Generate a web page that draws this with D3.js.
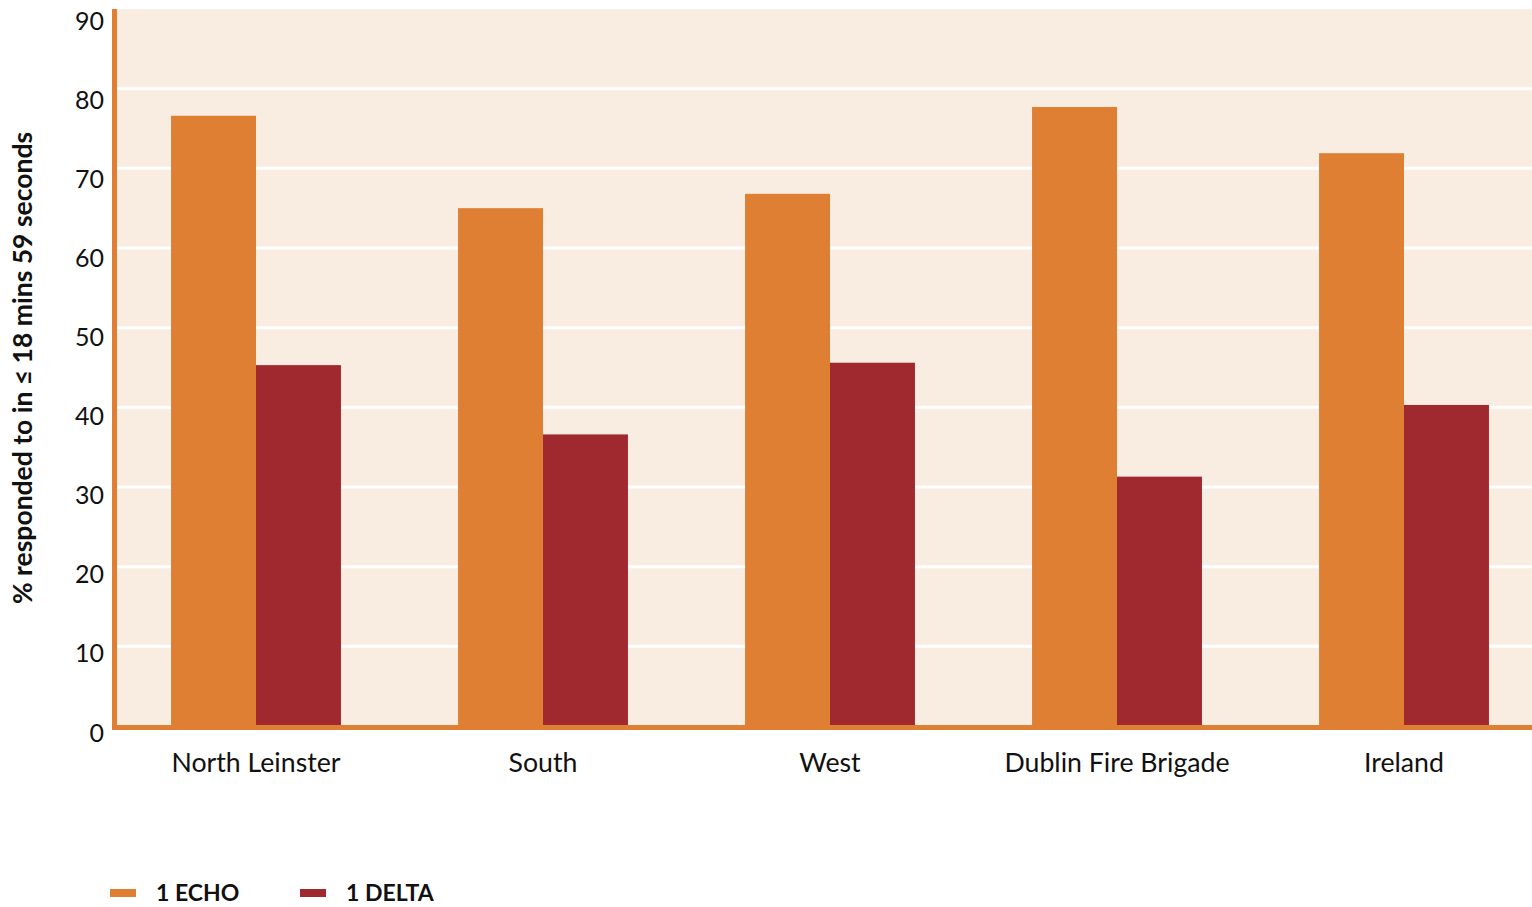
<!DOCTYPE html>
<html>
<head>
<meta charset="utf-8">
<script src="https://cdn.jsdelivr.net/npm/d3@7"></script>
<style>
  html, body { margin: 0; padding: 0; background: #ffffff; }
  svg { display: block; font-family: Lato, "Open Sans", sans-serif; }
</style>
</head>
<body>
<svg id="chart" width="1532" height="907"></svg>
<script>
// Response-time share by region, two incident categories
const categories = ["North Leinster", "South", "West", "Dublin Fire Brigade", "Ireland"];
const echoValues = [76.6, 65.0, 66.8, 77.7, 71.9];
const deltaValues = [45.3, 36.6, 45.6, 31.3, 40.3];
const seriesNames = ["1 ECHO", "1 DELTA"];
const yTicks = [0, 10, 20, 30, 40, 50, 60, 70, 80, 90];

const colors = { "1 ECHO": "#DF7F33", "1 DELTA": "#A0282F" };

const svg = d3.select("#chart");
const plot = { left: 117, right: 1532, top: 9, bottom: 726 };

// the category bands run slightly past the right edge of the frame
const x0 = d3.scaleBand()
  .domain(categories)
  .range([112.5, 1547.5])
  .paddingInner(0.408)
  .paddingOuter(0.204);

const x1 = d3.scaleBand()
  .domain(seriesNames)
  .range([0, x0.bandwidth()]);

const y = d3.scaleLinear()
  .domain([0, 90])
  .range([plot.bottom, plot.top]);

// tick labels sit a little below their gridlines
const yLabel = d3.scaleLinear()
  .domain([0, 90])
  .range([741.5, 30]);

// plot background
svg.append("rect")
  .attr("x", plot.left).attr("y", plot.top)
  .attr("width", plot.right - plot.left).attr("height", plot.bottom - plot.top)
  .attr("fill", "#F9EDE2");

// horizontal gridlines
svg.append("g")
  .selectAll("line")
  .data(yTicks.filter(d => d > 0 && d < 90))
  .join("line")
  .attr("x1", plot.left).attr("x2", plot.right)
  .attr("y1", d => y(d)).attr("y2", d => y(d))
  .attr("stroke", "#ffffff").attr("stroke-width", 3);

// bars
const rows = categories.map((c, i) => ({ cat: c, values: [
  { key: "1 ECHO", value: echoValues[i] },
  { key: "1 DELTA", value: deltaValues[i] }
]}));

svg.append("g")
  .selectAll("g")
  .data(rows)
  .join("g")
  .attr("transform", d => `translate(${x0(d.cat)},0)`)
  .selectAll("rect")
  .data(d => d.values)
  .join("rect")
  .attr("x", d => x1(d.key))
  .attr("y", d => y(d.value))
  .attr("width", x1.bandwidth())
  .attr("height", d => y(0) - y(d.value))
  .attr("fill", d => colors[d.key]);

// axis lines
svg.append("line")
  .attr("x1", 114.5).attr("x2", 114.5)
  .attr("y1", plot.top).attr("y2", 730)
  .attr("stroke", "#DF7F33").attr("stroke-width", 5);
svg.append("line")
  .attr("x1", 112).attr("x2", plot.right)
  .attr("y1", 727.5).attr("y2", 727.5)
  .attr("stroke", "#DF7F33").attr("stroke-width", 5);

// y tick labels
svg.append("g")
  .selectAll("text")
  .data(yTicks)
  .join("text")
  .attr("x", 104)
  .attr("y", d => yLabel(d))
  .attr("text-anchor", "end")
  .attr("font-size", 25)
  .attr("fill", "#111")
  .text(d => d);

// category labels
svg.append("g")
  .selectAll("text")
  .data(categories)
  .join("text")
  .attr("x", d => x0(d) + x0.bandwidth() / 2)
  .attr("y", 772)
  .attr("text-anchor", "middle")
  .attr("font-size", 26.7)
  .attr("fill", "#111")
  .text(d => d);

// y axis title
svg.append("text")
  .attr("transform", "translate(32,368) rotate(-90)")
  .attr("text-anchor", "middle")
  .attr("font-size", 26.5)
  .attr("font-weight", "bold")
  .attr("fill", "#111")
  .text("% responded to in \u2264 18 mins 59 seconds");

// legend
const legendX = [110, 300];
const legend = svg.append("g")
  .selectAll("g")
  .data(seriesNames)
  .join("g")
  .attr("transform", (d, i) => `translate(${legendX[i]},0)`);
legend.append("rect")
  .attr("x", 0).attr("y", 889)
  .attr("width", 26).attr("height", 8)
  .attr("fill", d => colors[d]);
legend.append("text")
  .attr("x", 46).attr("y", 901)
  .attr("font-size", 23)
  .attr("font-weight", "bold")
  .attr("fill", "#111")
  .text(d => d);
</script>
</body>
</html>
